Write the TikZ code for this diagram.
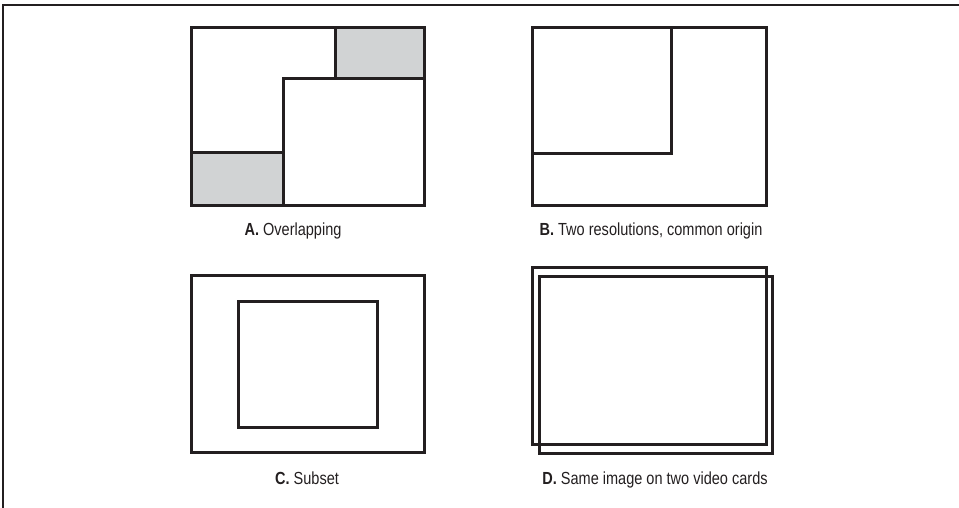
\documentclass[tikz,border=0pt]{standalone}
\usepackage{fontspec}
\setmainfont[FakeStretch=0.83]{Liberation Sans}
\usetikzlibrary{positioning}
\definecolor{inkgray}{RGB}{35,31,32}
\definecolor{shadegray}{RGB}{209,211,212}

\tikzset{
  screen/.style={draw=inkgray, line width=3pt},
  caption/.style={font=\fontsize{17.5}{20}\selectfont, text=inkgray, inner sep=0pt, anchor=base}
}

\begin{document}
\begin{tikzpicture}[x=1pt,y=-1pt]
    \useasboundingbox (0,0) rectangle (959,508);

    % draw frame
    \draw[inkgray, line width=1.2pt] (3,508) -- (3,5) -- (959,5);

    % draw A: overlapping
    \fill[shadegray] (335,28) rectangle (424,79);
    \fill[shadegray] (191,153) rectangle (283,205);
    \draw[screen] (191,28) rectangle (335,153);
    \draw[screen, fill=white] (283,79) rectangle (424,205);
    \draw[screen] (191,28) rectangle (424,205);
    \node[caption] (capA) at (293,235) {\textbf{A.} Overlapping};

    % draw B: common origin
    \draw[screen] (532,28) rectangle (766,205);
    \draw[screen] (532,28) rectangle (671,154);
    \node[caption] (capB) at (651,235) {\textbf{B.} Two resolutions, common origin};

    % draw C: subset
    \draw[screen] (191,275) rectangle (424,452);
    \draw[screen] (238,301) rectangle (377,427);
    \node[caption] (capC) at (307,484) {\textbf{C.} Subset};

    % draw D: two video cards
    \draw[screen] (532,267) rectangle (766,444);
    \draw[screen] (539,276) rectangle (772,453);
    \node[caption] (capD) at (655,484) {\textbf{D.} Same image on two video cards};
\end{tikzpicture}
\end{document}
